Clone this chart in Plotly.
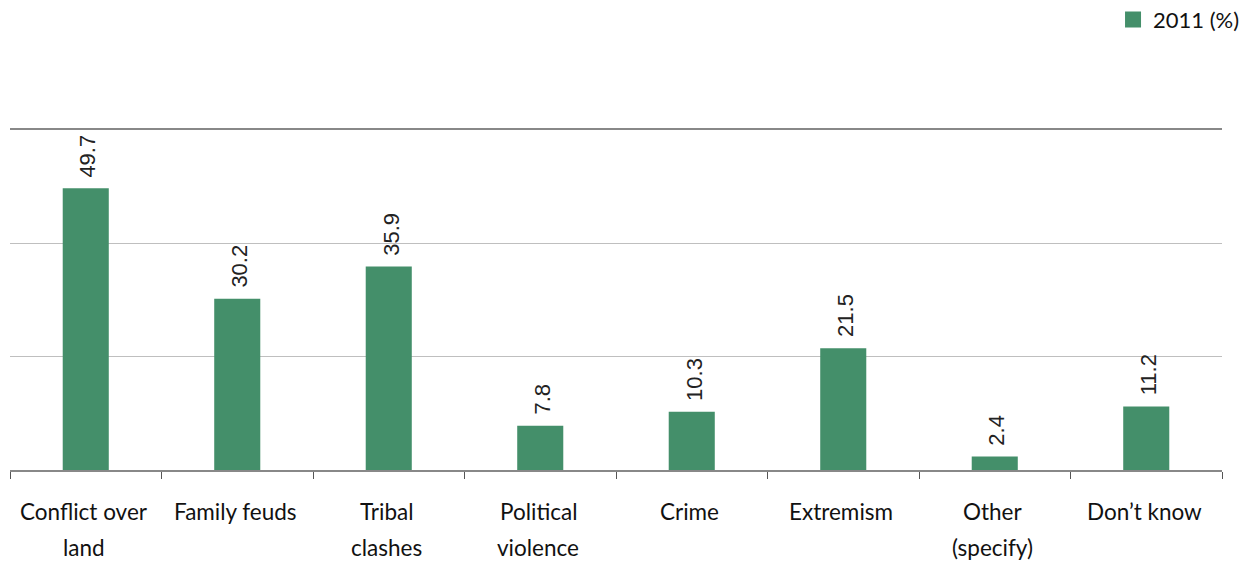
import plotly.graph_objects as go

# Perceived sources of local violence, 2011 survey (%)
categories = ["Conflict over land", "Family feuds", "Tribal clashes", "Political violence",
              "Crime", "Extremism", "Other (specify)", "Don\u2019t know"]
label_lines = [["Conflict over", "land"], ["Family feuds"], ["Tribal", "clashes"],
               ["Political", "violence"], ["Crime"], ["Extremism"], ["Other", "(specify)"],
               ["Don\u2019t know"]]
values_2011 = [49.7, 30.2, 35.9, 7.8, 10.3, 21.5, 2.4, 11.2]
series_name = "2011 (%)"

BAR_COLOR = "#448F6A"
CAT_FONT = dict(family="Lato, Open Sans, sans-serif", size=22.5, color="#111111")
VAL_FONT = dict(family="Liberation Sans, Arial, sans-serif", size=22, color="#222222")

fig = go.Figure()
fig.add_trace(go.Bar(
    x=categories, y=values_2011, name=series_name,
    marker=dict(color=BAR_COLOR, line=dict(width=0)),
    showlegend=False,
))
# legend swatch: larger square key for the series
fig.add_trace(go.Scatter(
    x=[None], y=[None], mode="markers", name=series_name,
    marker=dict(symbol="square", size=16, color=BAR_COLOR),
    showlegend=True,
))

annotations = []
# rotated value labels above each bar
for cat, val in zip(categories, values_2011):
    annotations.append(dict(
        x=cat, y=val, xref="x", yref="y", text=f"{val:.1f}", textangle=-90,
        showarrow=False, xanchor="center", yanchor="bottom", yshift=9, xshift=2,
        font=VAL_FONT,
    ))
# two-line category labels under the axis
for cat, lines in zip(categories, label_lines):
    for i, line in enumerate(lines):
        annotations.append(dict(
            x=cat, y=0, xref="x", yref="y", text=line, showarrow=False,
            xanchor="center", yanchor="middle", yshift=-41 - 36 * i, xshift=-2,
            font=CAT_FONT,
        ))

fig.update_layout(
    width=1253, height=561,
    margin=dict(l=10, r=31, t=130, b=91, autoexpand=False),
    paper_bgcolor="white", plot_bgcolor="white",
    bargap=0.696,
    annotations=annotations,
    legend=dict(
        x=1.019, y=1.386, xanchor="right", yanchor="top",
        font=dict(family="Lato, Open Sans, sans-serif", size=22, color="#111111"),
        bgcolor="rgba(0,0,0,0)", itemwidth=30,
    ),
    xaxis=dict(
        type="category", showticklabels=False,
        ticks="outside", tickson="boundaries", ticklen=7, tickcolor="#555555",
        showline=True, linecolor="#888888", linewidth=1.5, mirror=True,
        showgrid=False, zeroline=False,
    ),
    yaxis=dict(
        range=[0, 60], dtick=20, showticklabels=False, ticks="",
        showgrid=True, gridcolor="#BFBFBF", gridwidth=1,
        zeroline=False, showline=False,
    ),
)

fig.write_html("out.html")
